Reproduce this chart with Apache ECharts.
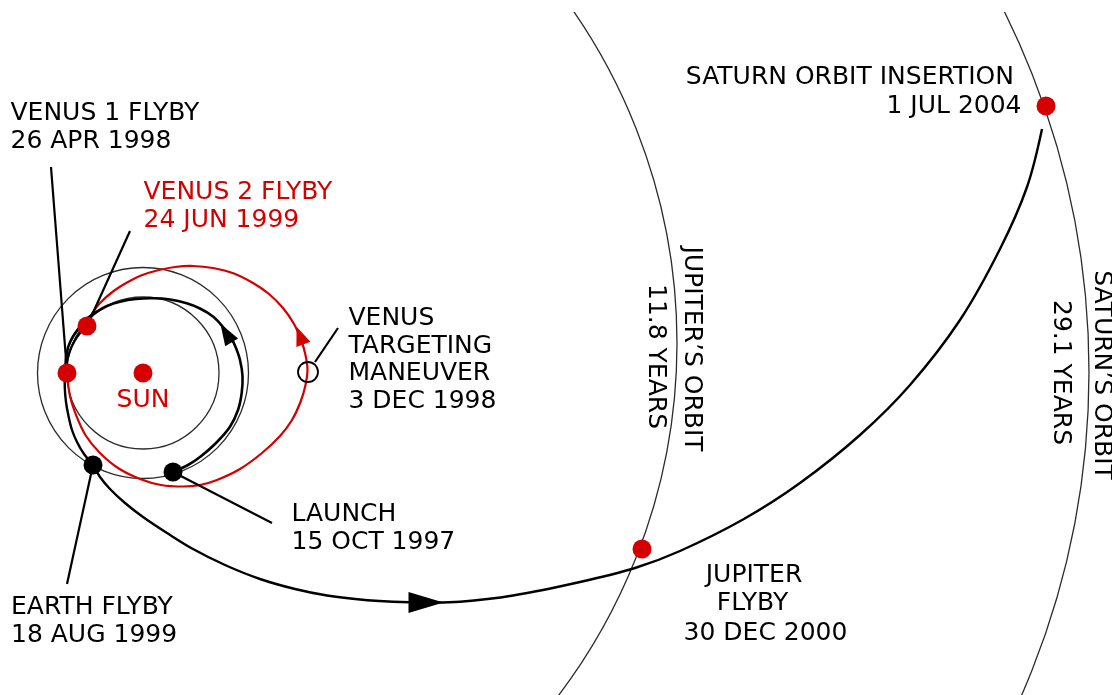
<!DOCTYPE html>
<html>
<head>
<meta charset="utf-8">
<title>Cassini trajectory</title>
<script src="https://cdn.jsdelivr.net/npm/echarts@6/dist/echarts.min.js"></script>
<style>
html, body { margin: 0; padding: 0; background: #fff; }
#myChart { width: 1112px; height: 695px; }
</style>
</head>
<body>
<div id="myChart"></div>
<script>
// orbit circles: [center x, center y, radius]
const orbits = [[143, 373, 76], [143, 373, 105.5], [94, 343, 583], [280, 372, 809]]

// launch -> venus 1
const launchPath = [[173, 472], [188, 465], [200, 457], [216, 443], [230, 426.7], [238, 410], [241.7, 393], [242.5, 376], [240, 360], [236, 348], [231.7, 339], [223, 327], [213.3, 316.7], [200, 308.5], [186.7, 303.3], [170, 299.5], [153.3, 298.3], [136, 299], [120, 301.7], [107, 306], [96.7, 311.7], [87, 318.5], [80, 326.7], [73, 336.5], [68.3, 346.7], [66, 358], [65.5, 372]]
// venus 1 -> maneuver -> venus 2
const venusLoop = [[67, 373], [70, 396], [76.7, 416.7], [86, 436], [100, 453], [118, 468], [140, 479], [161, 485], [183, 486.5], [200, 485], [217, 480], [240, 469], [262, 453], [280, 436], [292, 420], [300.5, 402], [305.5, 385], [307.5, 369], [305, 353], [301.5, 341], [294, 324], [283, 308], [269, 294], [253, 283], [234, 273.5], [213, 268], [193, 266], [175, 267], [157, 270.5], [141, 275.5], [127, 282.5], [113, 291.5], [100, 303], [92, 313.5], [89, 320]]
// venus 2 -> earth -> jupiter -> saturn
const cruisePath = [[87, 326], [80, 333], [74, 342], [69.5, 352], [66.5, 363], [65, 375], [64.8, 388], [66, 402], [68.5, 416], [72, 430], [77, 442], [84, 454], [93, 465], [100, 477], [110, 489], [125, 503], [143, 517], [167, 533], [193, 549], [225, 565], [260, 579], [295, 589], [327, 595.5], [360, 599.5], [393, 601.7], [425, 602.5], [460, 601.8], [513, 595.5], [580, 582], [635, 568], [680, 551], [743, 519.5], [800, 483], [860, 435], [910, 385], [960, 320], [1000, 249], [1027, 187], [1042, 129]]

// pointer lines from labels to events
const leaders = [
  [[51, 167], [67, 372]],
  [[130, 231], [87, 326]],
  [[338, 328], [315, 362]],
  [[173, 472], [272, 523]],
  [[93, 465], [67, 584]]
]

const redDots = [[143, 373], [67, 373], [87, 326], [642, 549], [1046, 106]]
const blackDots = [[173, 472], [93, 465]]
const maneuverDot = [[308, 372]]

// arrows: [x, y, heading in degrees, 0 = up, counterclockwise]
const cruiseArrow = [[426, 602.5, -90]]
const launchArrow = [[226, 333, 31]]
const loopArrow = [[300, 335.5, 21]]

// labels: [x, y, text]
const leftLabels = [
  [10.5, 113.5, 'VENUS 1 FLYBY'], [10.5, 141, '26 APR 1998'],
  [348.5, 318, 'VENUS'], [348.5, 346, 'TARGETING'], [348.5, 373.5, 'MANEUVER'], [348.5, 401, '3 DEC 1998'],
  [291.5, 514.5, 'LAUNCH'], [291.5, 542, '15 OCT 1997'],
  [11, 607, 'EARTH FLYBY'], [11, 635, '18 AUG 1999']
]
const redLeftLabels = [[143.5, 192, 'VENUS 2 FLYBY'], [143.5, 220, '24 JUN 1999']]
const rightLabels = [[1014, 77, 'SATURN ORBIT INSERTION'], [1021.5, 106, '1 JUL 2004']]
const centerLabels = [[754, 575, 'JUPITER'], [752.5, 603.5, 'FLYBY'], [765.5, 633.5, '30 DEC 2000']]
const redCenterLabels = [[143, 400, 'SUN']]
const sideLabels = [[691.5, 349, 'JUPITER\u2019S ORBIT'], [655, 356.5, '11.8 YEARS'], [1101, 375, 'SATURN\u2019S ORBIT'], [1060, 372.5, '29.1 YEARS']]

const RED = '#d40000'
const FONT = 'DejaVu Sans'

// one smooth curve through all the points of a path
function pathSeries (data, color, width) {
  return {
    type: 'custom',
    data: data,
    encode: { x: 0, y: 1 },
    silent: true,
    z: 3,
    renderItem: function (params, api) {
      if (params.dataIndex !== 0) return null
      let pts = data.map(p => api.coord(p))
      return {
        type: 'polyline',
        shape: { points: pts, smooth: 0.35 },
        style: { fill: 'none', stroke: color, lineWidth: width, lineJoin: 'round' }
      }
    }
  }
}

function textSeries (data, color, align, rotation) {
  return {
    type: 'custom',
    data: data.map(d => [d[0], d[1]]),
    encode: { x: 0, y: 1 },
    silent: true,
    z: 10,
    renderItem: function (params, api) {
      let p = api.coord([api.value(0), api.value(1)])
      return {
        type: 'text',
        x: p[0],
        y: p[1],
        rotation: rotation,
        style: {
          text: data[params.dataIndex][2],
          fill: color,
          fontSize: 25,
          fontFamily: FONT,
          align: align,
          verticalAlign: 'middle'
        }
      }
    }
  }
}

function arrowSeries (data, color, w, h) {
  return {
    type: 'scatter',
    data: data,
    symbol: 'triangle',
    symbolSize: [w, h],
    symbolRotate: function (value) { return value[2] },
    itemStyle: { color: color, opacity: 1 },
    silent: true,
    z: 6
  }
}

function dotSeries (data, color) {
  return {
    type: 'scatter',
    data: data,
    symbol: 'circle',
    symbolSize: 19,
    itemStyle: { color: color, opacity: 1 },
    silent: true,
    z: 7
  }
}

let series = [
  {
    type: 'custom',
    data: orbits,
    encode: { x: 0, y: 1 },
    clip: true,
    silent: true,
    z: 1,
    renderItem: function (params, api) {
      let c = api.coord([api.value(0), api.value(1)])
      let r = api.size([api.value(2), 0])[0]
      return {
        type: 'circle',
        shape: { cx: c[0], cy: c[1], r: r },
        style: { fill: 'none', stroke: '#2b2b2b', lineWidth: 1.3 }
      }
    }
  },
  pathSeries(venusLoop, RED, 2.2),
  pathSeries(launchPath, '#000', 2.6),
  pathSeries(cruisePath, '#000', 2.4)
]
leaders.forEach(l => {
  series.push({
    type: 'line',
    data: l,
    symbol: 'none',
    lineStyle: { color: '#000', width: 2.2 },
    silent: true,
    z: 4
  })
})
series.push(arrowSeries(cruiseArrow, '#000', 21, 35))
series.push(arrowSeries(launchArrow, '#000', 15, 22))
series.push(arrowSeries(loopArrow, RED, 15, 19))
series.push(dotSeries(redDots, RED))
series.push(dotSeries(blackDots, '#000'))
series.push({
  type: 'scatter',
  data: maneuverDot,
  symbol: 'circle',
  symbolSize: 20,
  itemStyle: { color: 'rgba(255,255,255,0)', borderColor: '#000', borderWidth: 1.8, opacity: 1 },
  silent: true,
  z: 8
})
series.push(textSeries(leftLabels, '#000', 'left', 0))
series.push(textSeries(redLeftLabels, RED, 'left', 0))
series.push(textSeries(rightLabels, '#000', 'right', 0))
series.push(textSeries(centerLabels, '#000', 'center', 0))
series.push(textSeries(redCenterLabels, RED, 'center', 0))
series.push(textSeries(sideLabels, '#000', 'center', -Math.PI / 2))

let myChart = echarts.init(document.getElementById('myChart'))
let option = {
  animation: false,
  backgroundColor: '#fff',
  grid: { left: 0, right: 0, top: 12, bottom: 0 },
  xAxis: { type: 'value', min: 0, max: 1112, show: false },
  yAxis: { type: 'value', min: 12, max: 695, inverse: true, show: false },
  series: series
}
myChart.setOption(option, true)
</script>
</body>
</html>
